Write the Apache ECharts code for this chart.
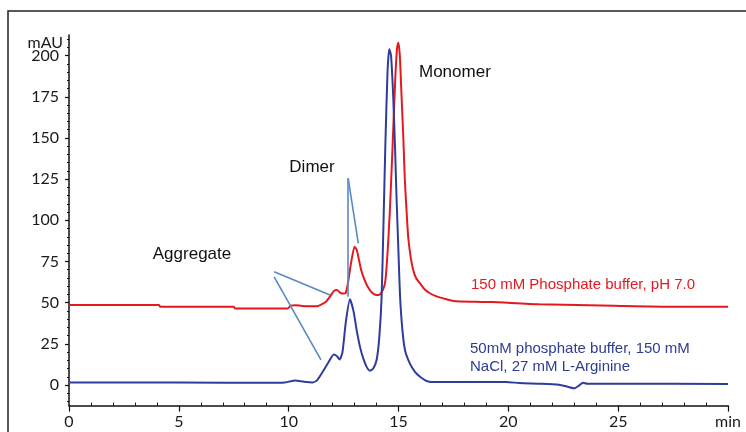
<!DOCTYPE html>
<html>
<head>
<meta charset="utf-8">
<script src="https://cdn.jsdelivr.net/npm/echarts@6/dist/echarts.min.js"></script>
<style>
html,body{margin:0;padding:0;background:#fff;}
#chart{width:746px;height:432px;}
</style>
</head>
<body>
<div id="chart"></div>
<script>
// ---- data (time in min, absorbance in mAU) ----
var redTime = [0,4.1,4.15,7.5,7.55,9.95,10.1,10.3,10.6,11.0,11.3,11.5,11.7,11.9,12.05,12.2,12.35,12.5,12.6,12.7,12.85,13.0,13.1,13.2,13.3,13.45,13.6,13.8,14.0,14.15,14.3,14.4,14.5,14.6,14.7,14.76,14.85,14.93,14.99,15.06,15.14,15.22,15.29,15.37,15.44,15.55,15.67,15.8,15.98,16.2,16.43,16.7,17.04,17.5,18.5,19.2,21.4,24.8,27.5,30];
var redValue = [48.6,48.6,47.5,47.5,46.5,46.5,48.2,48.5,48.0,47.8,47.8,49,50.6,54,57,57.7,56,55.5,56,62,75,84,82,76,69.8,64,59.7,56,54.6,55,58,63,80,104,135,155,185,204,208,200,175,150,124,105,90,78,69.8,65,61.7,58,55.7,54,52.6,51,50.5,50.4,49,48.1,47.5,47.5];
var blueTime = [0,5,9.2,9.8,10.3,10.7,11.1,11.3,11.55,11.8,12.05,12.2,12.32,12.45,12.6,12.79,12.95,13.1,13.25,13.4,13.55,13.7,13.85,14.0,14.12,14.23,14.32,14.4,14.5,14.58,14.66,14.76,14.84,14.91,15.0,15.07,15.18,15.3,15.52,15.75,15.98,16.2,16.4,17,18.5,19.9,20.5,21.5,22.3,22.7,23.0,23.2,23.4,23.6,25,30];
var blueValue = [1.5,1.5,1.3,1.5,2.8,2.0,1.6,3,8,13.5,18.5,17.5,15.5,20,38,52,45,33,23,16,11,8.7,10,15,28,53,100,145,190,204,200,175,145,114,80,54,33,21,13,8,5,3,2,1.8,1.8,1.8,1.2,0.8,0.2,-1,-2,-0.5,1.4,0.8,0.8,0.6];

var redName = '150 mM Phosphate buffer, pH 7.0';
var blueName = ['50mM phosphate buffer, 150 mM', 'NaCl, 27 mM L-Arginine'];

var xTickValues = [0,5,10,15,20,25,30];
var xTickLabels = ['0','5','10','15','20','25','min'];
var xMinorTicks = [1,2,3,4,6,7,8,9,11,12,13,14,16,17,18,19,21,22,23,24,26,27,28,29];
var yTickValues = [0,25,50,75,100,125,150,175,200];
var yMinorTicks = [-10,-5,5,10,15,20,30,35,40,45,55,60,65,70,80,85,90,95,105,110,115,120,130,135,140,145,155,160,165,170,180,185,190,195,205,210];

// pointer lines (data coordinates: [t, mAU] -> [t, mAU])
var aggregatePointers = [[[9.34,68.8],[11.88,54.6]], [[9.34,65.6],[11.47,15.2]]];
var dimerPointers = [[[12.71,125.5],[12.71,53.6]], [[12.71,125.5],[13.17,86]]];

function pairs(t, v){ return t.map(function(x,i){ return [x, v[i]]; }); }
var pointerData = aggregatePointers.concat(dimerPointers).map(function(seg){
  return [{coord: seg[0]}, {coord: seg[1]}];
});

var FONT = 'Lato, "Liberation Sans", sans-serif';
var chart = echarts.init(document.getElementById('chart'), null, {renderer:'canvas'});
chart.setOption({
  animation: false,
  backgroundColor: '#ffffff',
  grid: {left: 69, right: 18, top: 35, bottom: 26.4, containLabel: false},
  xAxis: [{
    type: 'value', min: 0, max: 30, position: 'bottom',
    axisLine: {show: true, onZero: false, lineStyle: {color: '#111', width: 1.5}},
    axisTick: {show: true, length: 6, customValues: xTickValues, lineStyle: {color: '#111', width: 1.2}},
    axisLabel: {show: true, customValues: xTickValues, margin: 8, color: '#1a1a1a', fontSize: 16, fontFamily: FONT,
      formatter: function(v){ var i = xTickValues.indexOf(v); return i >= 0 ? xTickLabels[i] : ''; }},
    splitLine: {show: false}
  }, {
    type: 'value', min: 0, max: 30, position: 'bottom',
    axisLine: {show: false, onZero: false},
    axisTick: {show: true, inside: true, length: 3, customValues: xMinorTicks, lineStyle: {color: '#111', width: 1}},
    axisLabel: {show: false},
    splitLine: {show: false}
  }],
  yAxis: [{
    type: 'value', min: -12.5, max: 212.5, position: 'left',
    axisLine: {show: true, onZero: false, lineStyle: {color: '#111', width: 1.5}},
    axisTick: {show: true, length: 4, customValues: yTickValues, lineStyle: {color: '#111', width: 1.2}},
    axisLabel: {show: true, customValues: yTickValues, margin: 10, color: '#1a1a1a', fontSize: 16, fontFamily: FONT},
    splitLine: {show: false}
  }, {
    type: 'value', min: -12.5, max: 212.5, position: 'left',
    axisLine: {show: false, onZero: false},
    axisTick: {show: true, length: 2, customValues: yMinorTicks, lineStyle: {color: '#111', width: 1.2}},
    axisLabel: {show: false},
    splitLine: {show: false}
  }],
  series: [{
    name: redName, type: 'line', xAxisIndex: 0, yAxisIndex: 0,
    data: pairs(redTime, redValue), showSymbol: false, smooth: 0.2,
    lineStyle: {color: '#e3191f', width: 2}, z: 3
  }, {
    name: blueName.join(' '), type: 'line', xAxisIndex: 0, yAxisIndex: 0,
    data: pairs(blueTime, blueValue), showSymbol: false, smooth: 0.2,
    lineStyle: {color: '#2e3d9c', width: 2}, z: 4,
    markLine: {
      silent: true, symbol: ['none','none'],
      label: {show: false},
      lineStyle: {color: '#5a8ac4', width: 1.6, type: 'solid'},
      data: pointerData
    }
  }],
  graphic: [
    {type: 'rect', shape: {x: 8, y: 11, width: 780, height: 460}, style: {fill: 'none', stroke: '#222', lineWidth: 1.5}, z: 0, silent: true},
    {type: 'text', style: {text: 'mAU', x: 63, y: 43, textAlign: 'right', textVerticalAlign: 'middle', align: 'right', verticalAlign: 'middle', font: '16px ' + FONT, fill: '#1a1a1a'}},
    {type: 'text', style: {text: 'Aggregate', x: 192, y: 254, textAlign: 'center', textVerticalAlign: 'middle', align: 'center', verticalAlign: 'middle', font: '17px "Liberation Sans", Arial, sans-serif', fill: '#111'}},
    {type: 'text', style: {text: 'Dimer', x: 312, y: 167, textAlign: 'center', textVerticalAlign: 'middle', align: 'center', verticalAlign: 'middle', font: '17px "Liberation Sans", Arial, sans-serif', fill: '#111'}},
    {type: 'text', style: {text: 'Monomer', x: 419, y: 72, textAlign: 'left', textVerticalAlign: 'middle', align: 'left', verticalAlign: 'middle', font: '17px "Liberation Sans", Arial, sans-serif', fill: '#111'}},
    {type: 'text', style: {text: redName, x: 471, y: 285, textAlign: 'left', textVerticalAlign: 'middle', align: 'left', verticalAlign: 'middle', font: '15px "Liberation Sans", Arial, sans-serif', fill: '#e3191f'}},
    {type: 'text', style: {text: blueName[0], x: 470, y: 349, textAlign: 'left', textVerticalAlign: 'middle', align: 'left', verticalAlign: 'middle', font: '15px "Liberation Sans", Arial, sans-serif', fill: '#2e3d8f'}},
    {type: 'text', style: {text: blueName[1], x: 470, y: 367, textAlign: 'left', textVerticalAlign: 'middle', align: 'left', verticalAlign: 'middle', font: '15px "Liberation Sans", Arial, sans-serif', fill: '#2e3d8f'}}
  ]
});
</script>
</body>
</html>
